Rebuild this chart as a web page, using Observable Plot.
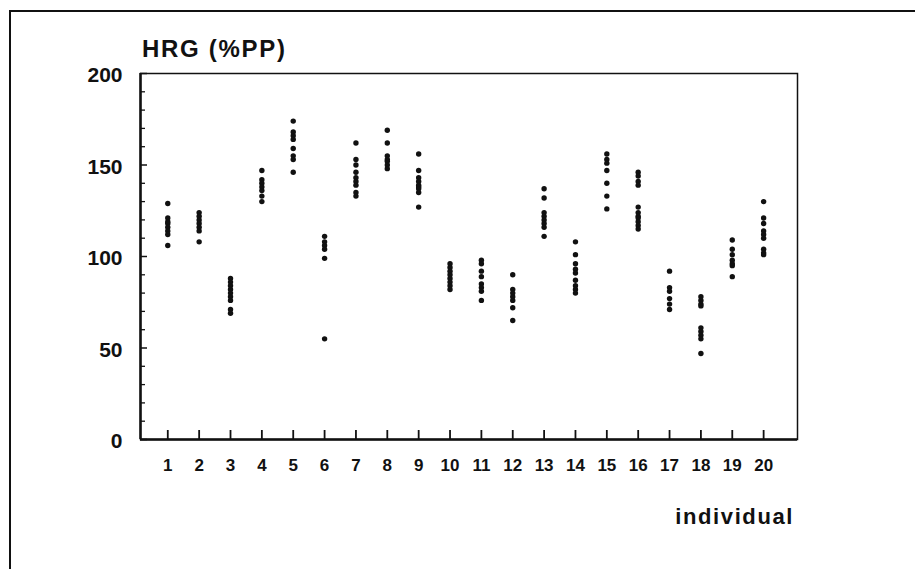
<!DOCTYPE html>
<html>
<head>
<meta charset="utf-8">
<script src="https://cdn.jsdelivr.net/npm/d3@7"></script>
<script src="https://cdn.jsdelivr.net/npm/@observablehq/plot@0.6"></script>
<style>
  html, body { margin: 0; padding: 0; background: #fff; }
  #wrap { position: relative; width: 915px; height: 569px; overflow: hidden; background: #fff; }
  #outer { position: absolute; left: 9px; top: 10px; right: -5px; bottom: -5px; border-top: 2px solid #111; border-left: 2px solid #111; }
  #chart { position: absolute; left: 0; top: 0; }
  .lbl { position: absolute; font-family: "Liberation Sans", Arial, sans-serif; font-weight: bold; color: #111; line-height: 1; white-space: nowrap; }
  #title { left: 142px; top: 37px; font-size: 24px; letter-spacing: 1.7px; }
  #xlabel { right: 121px; top: 506px; font-size: 22px; letter-spacing: 1.6px; }
</style>
</head>
<body>
<div id="wrap">
  <div id="outer"></div>
  <div id="chart"></div>
  <div class="lbl" id="title">HRG (%PP)</div>
  <div class="lbl" id="xlabel">individual</div>
</div>
<script>
const individuals = [1,2,3,4,5,6,7,8,9,10,11,12,13,14,15,16,17,18,19,20];
const hrg = [
  [129, 121, 119, 118, 116, 114, 112, 106],
  [124, 122, 120, 118, 116, 114, 108],
  [88, 86, 84, 82, 80, 78, 76, 71, 69],
  [147, 142, 140, 138, 136, 133, 130],
  [174, 168, 166, 164, 159, 155, 153, 146],
  [111, 108, 106, 104, 99, 55],
  [162, 153, 150, 146, 143, 141, 139, 135, 133],
  [169, 162, 155, 153, 152, 150, 148],
  [156, 147, 143, 141, 139, 138, 137, 135, 127],
  [96, 94, 92, 90, 88, 86, 84, 82],
  [98, 96, 92, 89, 85, 83, 81, 76],
  [90, 82, 80, 78, 76, 72, 65],
  [137, 132, 124, 122, 120, 118, 116, 111],
  [108, 101, 96, 93, 91, 87, 84, 82, 80],
  [156, 153, 151, 147, 140, 133, 126],
  [146, 144, 141, 139, 127, 124, 122, 121, 119, 117, 115],
  [92, 83, 81, 77, 74, 71],
  [78, 76, 74, 73, 61, 59, 57, 55, 47],
  [109, 104, 101, 98, 96, 95, 89],
  [130, 121, 118, 114, 112, 110, 104, 102, 101]
];
const yMajorTicks = [0, 50, 100, 150, 200];
const yMinorTicks = [10, 20, 30, 40, 60, 70, 80, 90, 110, 120, 130, 140, 160, 170, 180, 190];
const xDomain = [0.13, 21.08];
const yDomain = [0, 200];

const points = individuals.flatMap((ind, i) => hrg[i].map(v => ({individual: ind, hrg: v})));

const W = 915, H = 569;
const mLeft = 140, mTop = 73, mRight = 118, mBottom = 130;
const plotW = W - mLeft - mRight, plotH = H - mTop - mBottom;

const chart = Plot.plot({
  width: W,
  height: H,
  marginLeft: mLeft,
  marginTop: mTop,
  marginRight: mRight,
  marginBottom: mBottom,
  style: {background: "transparent", fontFamily: "'Liberation Sans', Arial, sans-serif", color: "#111", overflow: "visible"},
  x: {type: "linear", domain: xDomain},
  y: {domain: yDomain},
  marks: [
    Plot.frame({stroke: "#111", strokeWidth: 1.5}),
    Plot.ruleY([yDomain[0]], {stroke: "#111", strokeWidth: 2.5}),
    Plot.ruleX([xDomain[0]], {stroke: "#111", strokeWidth: 2.5}),
    Plot.tickY(yMinorTicks, {y: d => d, stroke: "#111", strokeWidth: 1.3, insetRight: plotW - 5}),
    Plot.tickY(yMajorTicks, {y: d => d, stroke: "#111", strokeWidth: 1.5, insetRight: plotW - 7}),
    Plot.tickX(individuals, {x: d => d, stroke: "#111", strokeWidth: 1.8, insetTop: plotH - 9}),
    Plot.axisY({ticks: yMajorTicks, tickSize: 0, tickPadding: 18, fontSize: 21, fontWeight: "bold", dy: 2, label: null, style: {letterSpacing: "1.5px"}}),
    Plot.axisX({ticks: individuals, tickSize: 0, tickPadding: 19, fontSize: 17, fontWeight: "bold", label: null, tickFormat: d => String(d)}),
    Plot.dot(points, {x: "individual", y: "hrg", symbol: "circle", r: 2.7, fill: "#111", stroke: "none"})
  ]
});
document.getElementById("chart").appendChild(chart);
</script>
</body>
</html>
